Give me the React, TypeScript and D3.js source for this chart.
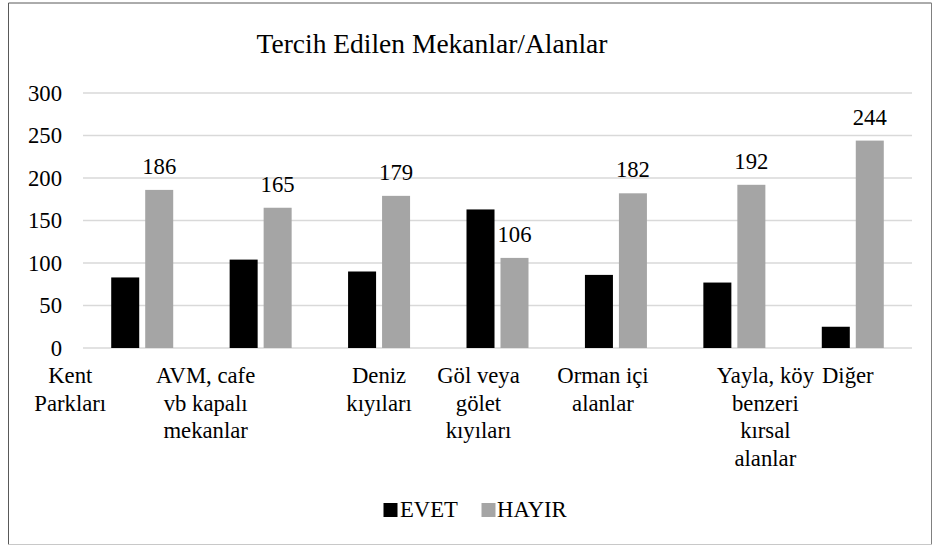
import React from "react";
import * as d3 from "d3";

// categories are stored as wrapped lines, the way they appear under the axis
const categories = [
  ["Kent", "Parkları"],
  ["AVM, cafe", "vb kapalı", "mekanlar"],
  ["Deniz", "kıyıları"],
  ["Göl veya", "gölet", "kıyıları"],
  ["Orman içi", "alanlar"],
  ["Yayla, köy", "benzeri", "kırsal", "alanlar"],
  ["Diğer"],
];
const evet = [83, 104, 90, 163, 86, 77, 25];
const hayir = [186, 165, 179, 106, 182, 192, 244];
const yTicks = [0, 50, 100, 150, 200, 250, 300];
const seriesNames = ["EVET", "HAYIR"];
const title = "Tercih Edilen Mekanlar/Alanlar";

// excel nudges some wrapped category labels off their group centre
const labelDx = [-72, -55, 0, -19, -13, 31, -5];

const W = 933;
const H = 547;
const font = "Liberation Serif, DejaVu Serif, serif";
const colors = ["#000000", "#a5a5a5"];
const txt = { fontFamily: font };

const App = () => {
  const margin = { top: 93, right: 21, bottom: 199, left: 83 };
  const keys = categories.map((c) => c.join(" "));

  const x0 = d3.scaleBand().domain(keys).range([margin.left, W - margin.right]);
  const x1 = d3
    .scaleBand()
    .domain(seriesNames)
    .range([0, x0.bandwidth()])
    .paddingInner(0.176)
    .paddingOuter(0.83);
  const y = d3.scaleLinear().domain([0, 300]).range([H - margin.bottom, margin.top]);

  const series = [evet, hayir];

  return (
    <div style={{ position: "absolute", left: 0, top: 0, fontFamily: font }}>
      <svg width={W} height={H} style={{ display: "block", background: "#fff", fontFamily: font }}>
        <rect x={0} y={0} width={W} height={H} fill="#fff" />
        {/* chart frame */}
        <line x1={8.5} y1={3} x2={8.5} y2={544.5} stroke="#595959" />
        <line x1={8.5} y1={3} x2={931.5} y2={3} stroke="#595959" />
        <line x1={931.5} y1={3} x2={931.5} y2={544.5} stroke="#808080" />
        <line x1={8.5} y1={544.5} x2={931.5} y2={544.5} stroke="#c8c8c8" />

        <text x={432} y={53} fontSize={27.5} textAnchor="middle" fill="#000" style={txt}>
          {title}
        </text>

        {yTicks.map((t) => (
          <g key={t}>
            <line
              x1={margin.left}
              x2={W - margin.right}
              y1={y(t)}
              y2={y(t)}
              stroke="#d9d9d9"
              strokeWidth={1.5}
            />
            <text x={62} y={y(t)} dy="0.34em" fontSize={22.7} textAnchor="end" fill="#000" style={txt}>
              {t}
            </text>
          </g>
        ))}

        {keys.map((k, i) => (
          <g key={k} transform={`translate(${x0(k)},0)`}>
            {seriesNames.map((s, j) => (
              <rect
                key={s}
                x={x1(s)}
                y={y(series[j][i])}
                width={x1.bandwidth()}
                height={y(0) - y(series[j][i])}
                fill={colors[j]}
              />
            ))}
            <text
              x={(x1("HAYIR") as number) + x1.bandwidth() / 2}
              y={y(hayir[i]) - 16}
              fontSize={22.7}
              textAnchor="middle"
              fill="#000"
              style={txt}
            >
              {hayir[i]}
            </text>
            <text
              x={x0.bandwidth() / 2 + labelDx[i]}
              y={383}
              fontSize={22.7}
              textAnchor="middle"
              fill="#000"
              style={txt}
            >
              {categories[i].map((line, li) => (
                <tspan key={li} x={x0.bandwidth() / 2 + labelDx[i]} dy={li === 0 ? 0 : 27.5}>
                  {line}
                </tspan>
              ))}
            </text>
          </g>
        ))}

        {/* legend */}
        <rect x={383.5} y={503} width={14} height={14} fill={colors[0]} />
        <text x={400} y={517} fontSize={22.7} fill="#000" style={txt}>
          {seriesNames[0]}
        </text>
        <rect x={481.5} y={503} width={14} height={14} fill={colors[1]} />
        <text x={497} y={517} fontSize={22.7} fill="#000" style={txt}>
          {seriesNames[1]}
        </text>
      </svg>
    </div>
  );
};

export default App;
